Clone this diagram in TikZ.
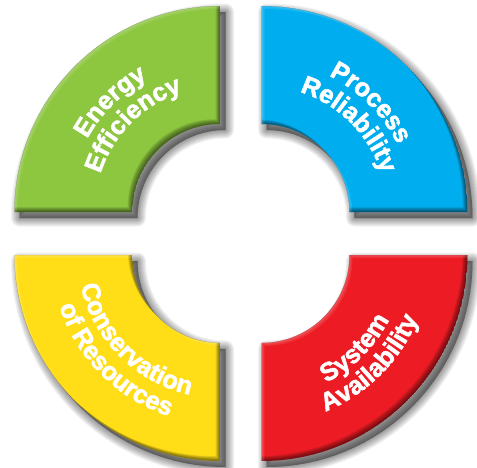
\documentclass[tikz,border=0pt]{standalone}
\usepackage{fontspec}
\newfontfamily\segfont{Liberation Sans}[BoldFeatures={FakeBold=2}]
\usetikzlibrary{decorations.text}

\definecolor{segGreen}{RGB}{141,198,63}
\definecolor{segBlue}{RGB}{0,174,239}
\definecolor{segYellow}{RGB}{255,222,23}
\definecolor{segRed}{RGB}{237,28,36}

% quarter ring: centre (#1,#2), starting angle #3
\newcommand\segpath[3]{({#1+206*cos(#3)},{#2+206*sin(#3)})
  arc[start angle=#3, end angle=#3+90, radius=206pt]
  -- ({#1+88*cos(#3+90)},{#2+88*sin(#3+90)})
  arc[start angle=#3+90, end angle=#3, radius=88pt] -- cycle}

% soft drop shadow below and right of a ring piece
\newcommand\segshadow[3]{%
  \foreach \w in {1,3,...,17}{%
    \filldraw[shadowlayer, line width=\w pt] \segpath{#1+5}{#2-6}{#3};}}

% ring piece with a bevelled rim (light from the upper left)
\newcommand\segment[4]{%
  \begin{scope}
    \clip \segpath{#1}{#2}{#3};
    \fill[#4] \segpath{#1}{#2}{#3};
    \foreach \t in {1,...,6}{%
      \fill[rimdark] \segpath{#1}{#2}{#3} \segpath{#1-0.8*\t}{#2+0.8*\t}{#3};}
    \foreach \t in {1,2,3}{%
      \fill[rimlight] \segpath{#1}{#2}{#3} \segpath{#1+\t}{#2-\t}{#3};}
  \end{scope}}

% curved caption: centre (#1,#2), radius #3, from angle #4 to #5
\newcommand\arclabel[6]{%
  \path[decorate, decoration={text along path, text align=center,
      text={|\segfont\bfseries\fontsize{25.5}{25.5}\selectfont\color{white}|#6}}]
    ({#1+#3*cos(#4)},{#2+#3*sin(#4)}) arc[start angle=#4, end angle=#5, radius=#3 pt];}

\tikzset{
  shadowlayer/.style={black, opacity=0.05, line join=round},
  rimdark/.style={black, opacity=0.1, even odd rule},
  rimlight/.style={white, opacity=0.08, even odd rule}
}

\begin{document}
\begin{tikzpicture}[x=1pt, y=1pt]
  \fill[white] (0,0) rectangle (477,467);
  \useasboundingbox (0,0) rectangle (477,467);

  % shadows first, so every piece sits above them
  \segshadow{220.5}{255}{90}
  \segshadow{261.5}{255}{0}
  \segshadow{220.5}{212}{180}
  \segshadow{261.5}{212}{270}

  % the four ring pieces
  \segment{220.5}{255}{90}{segGreen}
  \segment{261.5}{255}{0}{segBlue}
  \segment{220.5}{212}{180}{segYellow}
  \segment{261.5}{212}{270}{segRed}

  % captions
  \arclabel{220.5}{255}{152}{180}{90}{Energy}
  \arclabel{220.5}{255}{126}{180}{90}{Efficiency}
  \arclabel{261.5}{255}{152}{90}{0}{Process}
  \arclabel{261.5}{255}{126}{90}{0}{Reliability}
  \arclabel{220.5}{212}{143}{180}{270}{Conservation}
  \arclabel{220.5}{212}{169}{180}{270}{of Resources}
  \arclabel{261.5}{212}{143}{270}{360}{System}
  \arclabel{261.5}{212}{169}{270}{360}{Availability}
\end{tikzpicture}
\end{document}
